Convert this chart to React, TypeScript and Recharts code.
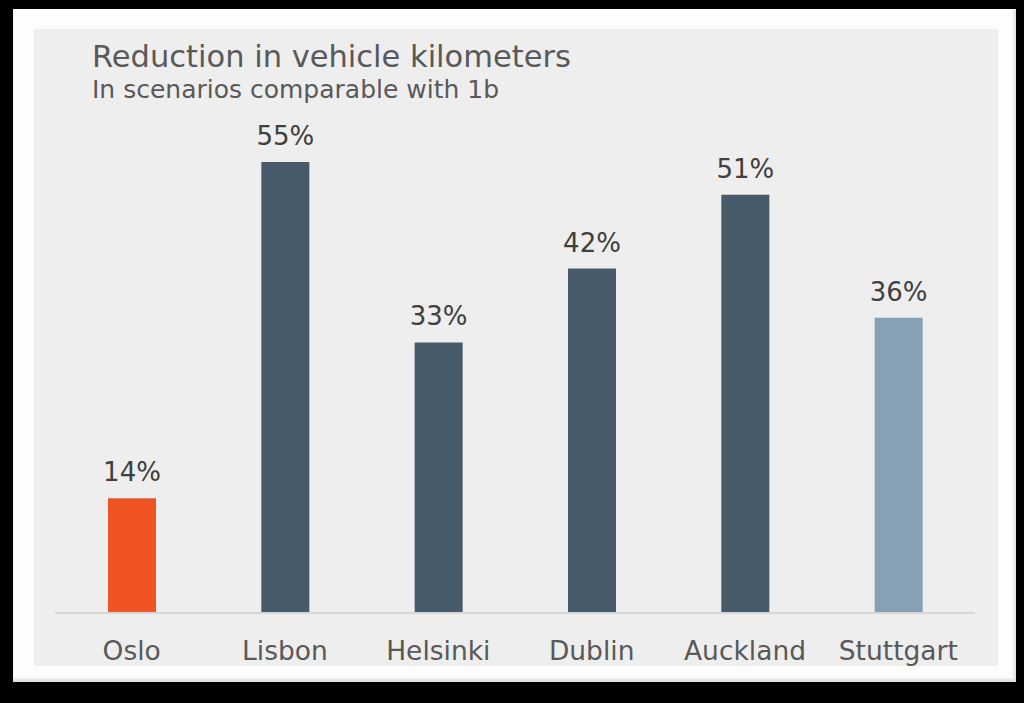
import { BarChart, Bar, XAxis, YAxis, Cell, LabelList } from "recharts";

const cities = ["Oslo", "Lisbon", "Helsinki", "Dublin", "Auckland", "Stuttgart"];
const reduction = [14, 55, 33, 42, 51, 36];
const barColors = ["#f05423", "#475a6a", "#475a6a", "#475a6a", "#475a6a", "#87a1b4"];

const data = cities.map((city, i) => ({ city, value: reduction[i] }));

const font = "'DejaVu Sans', Verdana, sans-serif";

export default function App() {
  return (
    <div style={{ position: "fixed", left: 0, top: 0, width: 1024, height: 703, background: "#000" }}>
      <div
        style={{
          position: "absolute",
          left: 13,
          top: 9,
          width: 1003,
          height: 673,
          background: "#fdfdfd",
          boxShadow: "inset -2px -3px 3px rgba(0,0,0,0.12)",
        }}
      />
      <div style={{ position: "absolute", left: 34, top: 29, width: 964, height: 637, background: "#eeeeee" }}>
        <svg style={{ position: "absolute", left: 0, top: 0 }} width={964} height={110}>
          <text x={58} y={38} fontFamily={font} fontSize={30.5} fill="#595959">
            Reduction in vehicle kilometers
          </text>
          <text x={58} y={69} fontFamily={font} fontSize={25} fill="#595959">
            In scenarios comparable with 1b
          </text>
        </svg>
        <div style={{ position: "absolute", left: 0, top: 0 }}>
          <BarChart
            width={964}
            height={637}
            data={data}
            margin={{ top: 92, right: 23, left: 21, bottom: 13 }}
          >
            <XAxis
              dataKey="city"
              height={40}
              axisLine={{ stroke: "#d6d6d6", strokeWidth: 2 }}
              tickLine={false}
              tickMargin={22}
              tick={{ fill: "#595959", fontSize: 26.5, fontFamily: font }}
            />
            <YAxis hide domain={[0, 60]} />
            <Bar dataKey="value" barSize={48} isAnimationActive={false}>
              {data.map((d, i) => (
                <Cell key={d.city} fill={barColors[i]} />
              ))}
              <LabelList
                dataKey="value"
                position="top"
                offset={17}
                formatter={(v: number) => `${v}%`}
                style={{ fill: "#404040", fontSize: 26, fontFamily: font }}
              />
            </Bar>
          </BarChart>
        </div>
      </div>
    </div>
  );
}
